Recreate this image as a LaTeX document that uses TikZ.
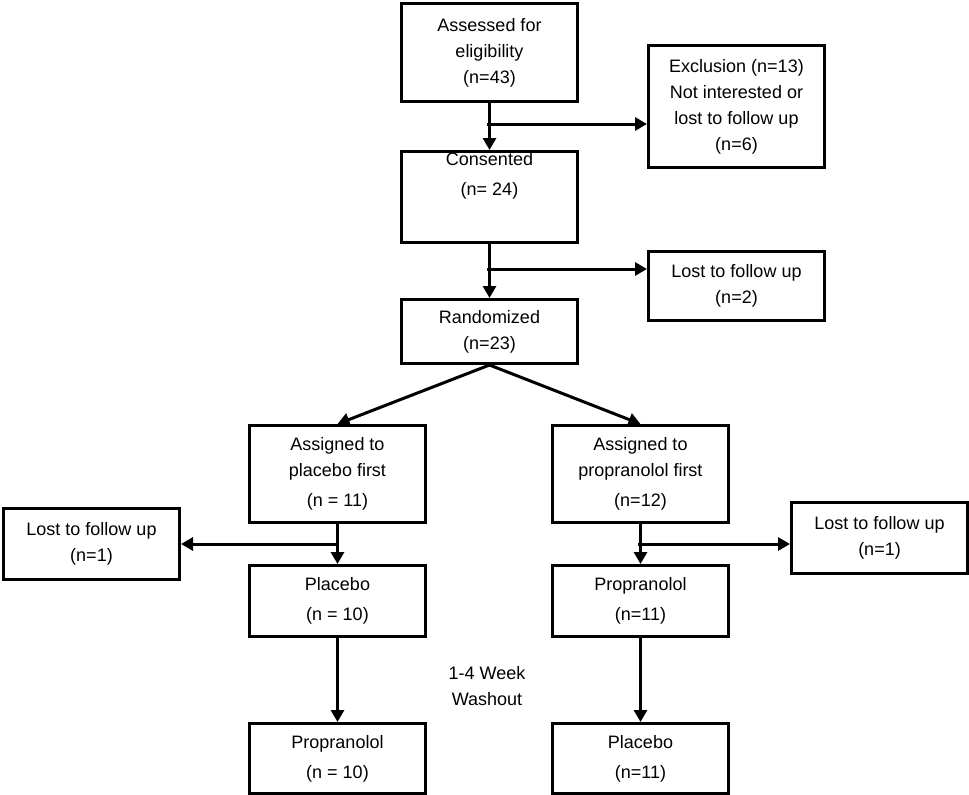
\documentclass[tikz,border=0pt]{standalone}
\usepackage{fontspec}
\setmainfont{Liberation Sans}
\usetikzlibrary{arrows.meta}
\begin{document}
\begin{tikzpicture}[x=1pt,y=-1pt,
  box/.style={draw,line width=3pt,minimum width=176pt,align=center,font=\fontsize{18}{26}\selectfont,anchor=north west,inner sep=0pt},
  arr/.style={line width=3pt,-{Triangle[length=12pt,width=13pt]}}]
\useasboundingbox (0,0) rectangle (969,795);
\node[box,minimum height=98pt] (a) at (400,2) {Assessed for\\eligibility\\(n=43)};
\node[box,minimum height=122pt] (ex) at (647,44) {Exclusion (n=13)\\Not interested or\\lost to follow up\\(n=6)};
\node[box,minimum height=91pt] (c) at (400,150) {Consented\\[4pt](n= 24)\\[20pt]};
\node[box,minimum height=69pt] (l2) at (647,250) {Lost to follow up\\(n=2)};
\node[box,minimum height=64pt] (r) at (400,298) {Randomized\\(n=23)};
\node[box,minimum height=97pt] (ap) at (248,424) {Assigned to\\placebo first\\[4pt](n = 11)};
\node[box,minimum height=97pt] (ar) at (551,424) {Assigned to\\propranolol first\\[4pt](n=12)};
\node[box,minimum height=71pt] (ll) at (2,507) {Lost to follow up\\(n=1)};
\node[box,minimum height=71pt] (lr) at (790,501) {Lost to follow up\\(n=1)};
\node[box,minimum height=71pt] (p1) at (248,564) {Placebo\\[4pt](n = 10)};
\node[box,minimum height=71pt] (r1) at (551,564) {Propranolol\\[4pt](n=11)};
\node[box,minimum height=70pt] (p2) at (248,722) {Propranolol\\[4pt](n = 10)};
\node[box,minimum height=70pt] (r2) at (551,722) {Placebo\\[4pt](n=11)};
\node[align=center,font=\fontsize{18}{26}\selectfont] (w) at (487,686) {1-4 Week\\Washout};
\draw[arr] (a.south) -- (c.north);
\coordinate (b1) at (487,124);
\draw[arr] (b1) -- (ex.west |- b1);
\draw[arr] (c.south) -- (r.north);
\coordinate (b2) at (487,269);
\draw[arr] (b2) -- (l2.west |- b2);
\draw[arr] (r.south) -- (ap.north);
\draw[arr] (r.south) -- (ar.north);
\draw[arr] (ap.south) -- (p1.north);
\coordinate (b3) at (337,544);
\draw[arr] (b3) -- (ll.east |- b3);
\draw[arr] (ar.south) -- (r1.north);
\coordinate (b4) at (638,544);
\draw[arr] (b4) -- (lr.west |- b4);
\draw[arr] (p1.south) -- (p2.north);
\draw[arr] (r1.south) -- (r2.north);
\end{tikzpicture}
\end{document}
